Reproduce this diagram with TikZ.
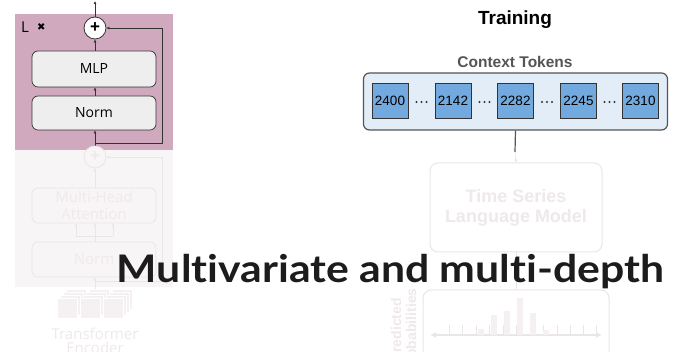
\documentclass[tikz,border=0pt]{standalone}
\usepackage{fontspec}
\setmainfont{Liberation Sans}
\newfontfamily\latofont[Ligatures=NoCommon]{Lato}
\newfontfamily\osfont{Open Sans}
\newfontfamily\djfont{DejaVu Sans}
\usetikzlibrary{arrows.meta}
\definecolor{panelpink}{HTML}{D1A9BE}
\definecolor{panelfade}{HTML}{F8F5F6}
\definecolor{boxgray}{HTML}{EEEEEE}
\definecolor{inkdark}{HTML}{333333}
\definecolor{fadeline}{HTML}{EAE5E8}
\definecolor{fadetext}{HTML}{EFE9EC}
\definecolor{fadefill}{HTML}{F5F1F3}
\definecolor{ctxfill}{HTML}{E2EDF8}
\definecolor{ctxline}{HTML}{555555}
\definecolor{tokfill}{HTML}{72A9DE}
\definecolor{titleink}{HTML}{1C1C1C}
\tikzset{
  blockbox/.style={draw=inkdark, fill=boxgray, rounded corners=6pt, line width=0.7pt,
    minimum width=124pt, minimum height=36pt, inner sep=0pt, font=\osfont\fontsize{14}{16}\selectfont},
  fadebox/.style={draw=fadeline, fill=panelfade, rounded corners=6pt, line width=0.7pt,
    minimum width=124pt, minimum height=35pt, inner sep=0pt, text=fadetext,
    font=\osfont\fontsize{15}{16.5}\selectfont, align=center},
  sumnode/.style={circle, draw=inkdark, fill=white, line width=0.8pt, minimum size=22pt, inner sep=0pt},
  fadesum/.style={circle, draw=fadeline, fill=panelfade, line width=0.8pt, minimum size=22pt, inner sep=0pt},
  link/.style={draw=inkdark, line width=0.7pt, -{Latex[length=3pt,width=3pt]}},
  fadelink/.style={draw=fadeline, line width=0.7pt, -{Latex[length=3pt,width=3pt]}},
  token/.style={draw=inkdark, fill=tokfill, line width=0.5pt, minimum width=36pt, minimum height=35pt,
    inner sep=0pt, font=\fontsize{13.5}{14}\selectfont},
  stackface/.style={fill=fadefill, draw=white, line width=0.6pt},
}
\begin{document}
\begin{tikzpicture}[x=1pt, y=-1pt]
\useasboundingbox (0,0) rectangle (673,352);
\clip (0,0) rectangle (673,352);
\fill[white] (0,0) rectangle (673,352);

% ---------------- transformer encoder (left) ----------------
\fill[panelfade] (15,150) rectangle (173,287);
\fill[panelpink] (15,14) rectangle (173,150);

\node[sumnode] (sumtop) at (95,28) {\fontsize{17}{17}\selectfont\bfseries +};
\node[blockbox] (mlp) at (94,69) {MLP};
\node[blockbox, minimum height=34pt] (norm2) at (94,113) {Norm};
\node[anchor=west, inner sep=0pt, font=\osfont\fontsize{15}{16}\selectfont] (lbl) at (21,27) {L};
\node[anchor=west, inner sep=0pt, font=\djfont\fontsize{10}{10}\selectfont] (times) at (37,27) {✖};
\coordinate (outtop) at (95,1);
\coordinate (branch) at (95,143);
\coordinate (skipc) at (162,143);
\coordinate (skipt) at (162,28);
\coordinate (enter) at (95,150);

\draw[link] (sumtop.north) -- (outtop);
\draw[link] (mlp.north -| sumtop) -- (sumtop.south);
\draw[link] (norm2.north -| sumtop) -- (mlp.south -| sumtop);
\draw[link] (enter) -- (norm2.south -| sumtop);
\draw[link] (branch) -- (skipc) -- (skipt) -- (sumtop.east);

% faded lower half of the encoder
\node[fadesum] (sumlow) at (95,157) {\color{fadetext}\fontsize{17}{17}\selectfont\bfseries +};
\node[fadebox] (mha) at (94,205.5) {Multi-Head\\Attention};
\node[fadebox] (norm1) at (94,259.5) {Norm};
\coordinate (fbranch) at (95,281);
\coordinate (fskipc) at (162,281);
\coordinate (fskipt) at (162,157);
\coordinate (fsplit) at (95,236);
\coordinate (fsplitl) at (76,236);
\coordinate (fsplitr) at (113,236);
\coordinate (fbottom) at (95,296);
\draw[fadelink] (mha.north -| sumlow) -- (sumlow.south);
\draw[fadeline, line width=0.7pt] (norm1.north -| sumlow) -- (fsplit);
\draw[fadeline, line width=0.7pt] (fsplitl) -- (fsplitr);
\draw[fadelink] (fsplit) -- (mha.south -| sumlow);
\draw[fadelink] (fsplitl) -- (mha.south -| fsplitl);
\draw[fadelink] (fsplitr) -- (mha.south -| fsplitr);
\draw[fadelink] (fbottom) -- (norm1.south -| sumlow);
\draw[fadelink] (fbranch) -- (fskipc) -- (fskipt) -- (sumlow.east);

% stacked embedding squares
\foreach \sx in {57,80,103}{
  \foreach \k in {3,2,1,0}{
    \filldraw[stackface] (\sx+3*\k,298-3*\k) rectangle ++(20,20);
  }
}
\node[font=\osfont\fontsize{15}{16}\selectfont, text=fadetext, align=center] (encname) at (95,341)
  {Transformer\\[-2pt]Encoder};

% ---------------- training pipeline (right) ----------------
\node[font=\bfseries\fontsize{19}{20}\selectfont] (training) at (515,20) {Training};
\node[font=\bfseries\fontsize{15.5}{16}\selectfont, text=ctxline] (ctxtitle) at (515,62) {Context Tokens};
\node[draw=ctxline, fill=ctxfill, line width=1.2pt, rounded corners=6pt,
      minimum width=304pt, minimum height=57pt, inner sep=0pt] (ctx) at (515.5,101.5) {};

\node[token] (t1) at (390,101) {2400};
\node[token] (t2) at (453,101) {2142};
\node[token] (t3) at (515.5,101) {2282};
\node[token] (t4) at (578.5,101) {2245};
\node[token] (t5) at (640.5,101) {2310};
\foreach \cx in {421.5,484.5,547,609.5}{
  \foreach \d in {-5,0,5}{
    \fill[inkdark] (\cx+\d,102) circle (1.2pt);
  }
}

% faded language model and output histogram
\node[draw=fadeline, fill=white, line width=1pt, rounded corners=8pt,
      minimum width=172pt, minimum height=89pt, inner sep=0pt, align=center,
      text=fadetext, font=\bfseries\fontsize{18}{20}\selectfont] (tslm) at (516,207.5)
      {Time Series\\Language Model};
\node[draw=fadeline, fill=white, line width=1pt, rounded corners=8pt,
      minimum width=186pt, minimum height=80pt, inner sep=0pt] (probs) at (516,330) {};
\coordinate (ctxmid) at (515,152);
\draw[ctxline, line width=1.2pt] (ctx.south) -- (ctxmid);
\draw[fadelink] (ctxmid) -- (tslm.north);
\draw[fadeline, line width=0.8pt] (tslm.south) -- (probs.north);

\node[rotate=90, align=center, text=fadetext, font=\bfseries\fontsize{14}{15}\selectfont] (plabel) at (405,330)
  {Predicted\\probabilities};

\coordinate (axl) at (430,335);
\coordinate (axr) at (602,335);
\draw[draw=fadeline, line width=1.2pt, {Latex[length=6pt,width=6pt]}-{Latex[length=6pt,width=6pt]}] (axl) -- (axr);
\foreach \tx in {449,462,476,489,503,516,530,543,557,570,583,596}{
  \draw[fadeline, line width=0.8pt] (\tx,335) -- (\tx,325);
}
\foreach \bx/\bh in {481/6,494/20,507/24,520/37,533/22,546/5}{
  \fill[fadefill] (\bx-3,335) rectangle (\bx+3,335-\bh);
}

% ---------------- slide title ----------------
\node[anchor=base, inner sep=0pt, text=titleink, font=\latofont\bfseries\fontsize{38}{38}\selectfont] (title) at (390.5,283)
  {\scalebox{1.125}[1]{Multivariate and multi-depth}};
\end{tikzpicture}
\end{document}
